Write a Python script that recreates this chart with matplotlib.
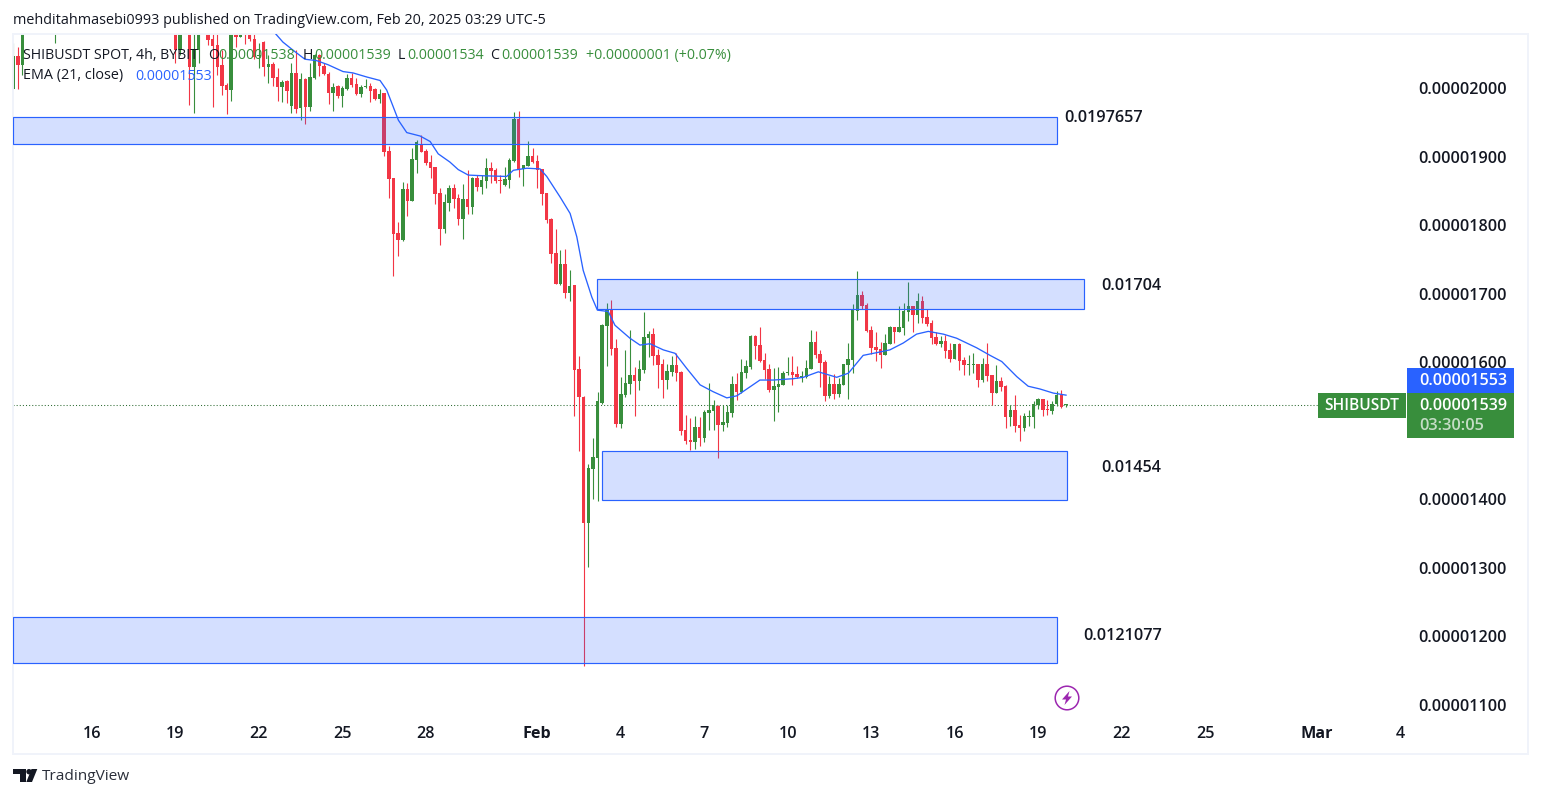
#!/usr/bin/env python3
import numpy as np
import matplotlib
matplotlib.use("Agg")
import matplotlib.pyplot as plt
from matplotlib.patches import Rectangle, Circle, Polygon

plt.rcParams['font.family'] = ['Open Sans', 'DejaVu Sans']

# 4h candles in units of 0.00000001, oldest first
# (the ones above the top of the chart are rough guesses, they get clipped)
opens = [
    1998, 2046, 2033, 2090, 2105, 2112, 2098, 2120, 2108, 2095,
    2110, 2125, 2118, 2132, 2140, 2128, 2135, 2146, 2130, 2122, 2138, 2150, 2142, 2128, 2120,
    2134, 2126, 2115, 2130, 2122, 2110, 2118, 2105, 2112, 2098,
    2082, 2055, 2085, 2095, 2031, 2055, 2085, 2090, 2072, 2063,
    2033, 2005, 1997, 2085, 2075, 2090, 2077, 2071, 2046, 2067,
    2031, 2035, 2016, 2001, 2010, 1974, 2022, 1971, 2013, 1973,
    2014, 2048, 2032, 2021, 1993, 2003, 1988, 1999, 2015, 2006,
    1991, 2001, 2003, 1999, 1984, 1993, 1908, 1869, 1789, 1778,
    1853, 1835, 1895, 1918, 1908, 1892, 1885, 1847, 1794, 1832,
    1854, 1840, 1809, 1838, 1826, 1869, 1856, 1864, 1883, 1880,
    1866, 1858, 1866, 1894, 1955, 1882, 1886, 1901, 1893, 1882,
    1847, 1809, 1759, 1714, 1743, 1701, 1712, 1590, 1550, 1366,
    1444, 1461, 1541, 1653, 1678, 1621, 1510, 1552, 1568, 1581,
    1573, 1589, 1635, 1641, 1610, 1597, 1574, 1586, 1596, 1586,
    1501, 1487, 1484, 1505, 1489, 1526, 1529, 1536, 1508, 1511,
    1526, 1568, 1557, 1584, 1593, 1638, 1625, 1603, 1590, 1559,
    1564, 1567, 1584, 1586, 1583, 1578, 1578, 1590, 1630, 1612,
    1600, 1551, 1568, 1554, 1567, 1596, 1603, 1675, 1698, 1684,
    1647, 1622, 1619, 1611, 1627, 1651, 1644, 1650, 1673, 1682,
    1669, 1689, 1666, 1657, 1637, 1627, 1631, 1618, 1605, 1627,
    1603, 1596, 1596, 1597, 1574, 1597, 1581, 1555, 1573, 1565,
    1520, 1530, 1508, 1504, 1520, 1520, 1538, 1546, 1532, 1529,
    1539, 1552, 1538,
]
highs = [
    2065, 2060, 2095, 2105, 2120, 2125, 2118, 2130, 2125, 2120,
    2128, 2135, 2132, 2142, 2150, 2145, 2148, 2155, 2146, 2136, 2145, 2158, 2155, 2146, 2130,
    2140, 2138, 2128, 2136, 2132, 2122, 2126, 2120, 2118, 2110,
    2095, 2095, 2105, 2110, 2085, 2095, 2100, 2100, 2095, 2085,
    2055, 2007, 2090, 2095, 2085, 2100, 2090, 2085, 2065, 2068,
    2048, 2038, 2029, 2012, 2012, 2036, 2055, 2022, 2014, 2036,
    2049, 2050, 2037, 2024, 2007, 2005, 2003, 2020, 2022, 2015,
    2005, 2013, 2007, 2000, 1999, 1993, 1915, 1869, 1805, 1863,
    1861, 1913, 1924, 1931, 1911, 1902, 1885, 1854, 1845, 1859,
    1860, 1845, 1860, 1880, 1870, 1873, 1873, 1898, 1892, 1883,
    1873, 1885, 1898, 1965, 1966, 1888, 1923, 1912, 1902, 1882,
    1847, 1810, 1794, 1764, 1765, 1735, 1713, 1609, 1551, 1452,
    1489, 1557, 1656, 1686, 1691, 1634, 1578, 1618, 1647, 1593,
    1603, 1673, 1646, 1650, 1619, 1605, 1597, 1609, 1613, 1587,
    1523, 1519, 1522, 1520, 1530, 1570, 1545, 1538, 1538, 1538,
    1580, 1584, 1605, 1603, 1640, 1640, 1651, 1613, 1597, 1592,
    1593, 1587, 1608, 1609, 1594, 1587, 1603, 1647, 1646, 1618,
    1603, 1580, 1583, 1577, 1598, 1628, 1685, 1733, 1704, 1686,
    1653, 1644, 1630, 1641, 1653, 1652, 1682, 1686, 1717, 1682,
    1701, 1697, 1677, 1662, 1644, 1638, 1640, 1628, 1627, 1628,
    1608, 1610, 1613, 1598, 1606, 1628, 1581, 1596, 1578, 1567,
    1538, 1552, 1523, 1526, 1530, 1543, 1548, 1546, 1545, 1543,
    1558, 1559, 1539,
]
lows = [
    1998, 1999, 2019, 2088, 2098, 2100, 2092, 2105, 2098, 2065,
    2100, 2108, 2105, 2118, 2124, 2120, 2122, 2125, 2118, 2108, 2120, 2128, 2122, 2112, 2106,
    2112, 2108, 2098, 2108, 2098, 2096, 2092, 2090, 2085, 2088,
    2036, 2048, 2082, 1975, 1964, 2037, 2081, 2063, 1973, 2019,
    1990, 1962, 1981, 2060, 2074, 2064, 2068, 2043, 2029, 2017,
    2008, 2003, 1981, 1980, 1978, 1963, 1964, 1953, 1947, 1967,
    2013, 2018, 2019, 1977, 1967, 1985, 1973, 1997, 2001, 1990,
    1987, 2000, 1980, 1983, 1978, 1901, 1840, 1726, 1755, 1777,
    1813, 1835, 1876, 1906, 1888, 1869, 1831, 1771, 1789, 1821,
    1825, 1800, 1780, 1816, 1816, 1850, 1845, 1854, 1861, 1861,
    1847, 1857, 1854, 1892, 1870, 1857, 1886, 1891, 1854, 1829,
    1803, 1745, 1714, 1713, 1694, 1689, 1522, 1470, 1157, 1302,
    1400, 1398, 1539, 1594, 1611, 1505, 1504, 1549, 1554, 1522,
    1559, 1584, 1608, 1596, 1562, 1548, 1561, 1580, 1573, 1494,
    1481, 1472, 1473, 1478, 1484, 1501, 1501, 1460, 1500, 1505,
    1520, 1545, 1555, 1577, 1590, 1605, 1601, 1575, 1556, 1514,
    1527, 1567, 1581, 1567, 1577, 1571, 1577, 1590, 1606, 1564,
    1544, 1548, 1547, 1550, 1567, 1547, 1585, 1661, 1677, 1644,
    1612, 1602, 1591, 1610, 1626, 1628, 1644, 1640, 1660, 1644,
    1657, 1657, 1653, 1627, 1625, 1622, 1606, 1600, 1605, 1589,
    1581, 1581, 1584, 1564, 1571, 1573, 1537, 1555, 1558, 1504,
    1507, 1498, 1485, 1500, 1507, 1504, 1532, 1521, 1523, 1524,
    1536, 1533, 1534,
]
closes = [
    2046, 2033, 2090, 2105, 2112, 2098, 2120, 2108, 2095, 2110,
    2125, 2118, 2132, 2140, 2128, 2135, 2146, 2130, 2122, 2138, 2150, 2142, 2128, 2120, 2134,
    2126, 2115, 2130, 2122, 2110, 2118, 2105, 2112, 2098, 2100,
    2055, 2085, 2095, 2031, 2055, 2085, 2092, 2070, 2062, 2031,
    2003, 1997, 2085, 2075, 2078, 2079, 2071, 2045, 2048, 2031,
    2035, 2015, 2001, 2009, 1995, 2022, 1970, 2013, 1973, 2016,
    2048, 2032, 2020, 1993, 2001, 1988, 2000, 2015, 2004, 1991,
    2001, 2003, 1996, 1984, 1992, 1907, 1867, 1787, 1778, 1853,
    1835, 1896, 1921, 1907, 1891, 1883, 1845, 1794, 1834, 1854,
    1838, 1809, 1838, 1826, 1869, 1856, 1866, 1883, 1879, 1864,
    1864, 1867, 1895, 1955, 1880, 1888, 1901, 1892, 1880, 1845,
    1807, 1758, 1714, 1743, 1701, 1711, 1589, 1550, 1366, 1446,
    1462, 1543, 1654, 1678, 1619, 1510, 1554, 1570, 1581, 1573,
    1590, 1637, 1641, 1609, 1596, 1574, 1587, 1596, 1584, 1500,
    1485, 1484, 1505, 1489, 1527, 1530, 1538, 1508, 1513, 1527,
    1568, 1557, 1586, 1594, 1638, 1624, 1602, 1589, 1559, 1565,
    1568, 1584, 1586, 1581, 1578, 1580, 1591, 1630, 1610, 1599,
    1551, 1568, 1554, 1568, 1597, 1605, 1677, 1698, 1682, 1645,
    1621, 1618, 1611, 1628, 1651, 1644, 1651, 1675, 1682, 1669,
    1689, 1665, 1656, 1635, 1627, 1631, 1616, 1605, 1627, 1602,
    1596, 1597, 1597, 1574, 1597, 1580, 1555, 1573, 1564, 1520,
    1530, 1507, 1504, 1522, 1522, 1539, 1546, 1530, 1530, 1539,
    1552, 1535, 1539,
]

# EMA(21): day number (Jan 1 = 1, Feb 1 = 32) and value
ema_days = [
    22.60, 22.86, 23.23, 23.65, 24.07, 24.48, 25.02, 25.38, 25.88, 26.35,
    26.59, 26.82, 27.01, 27.31, 27.79, 28.15, 28.44, 28.86, 29.16, 29.52,
    30.06, 30.90, 31.14, 31.62, 32.10, 32.34, 32.82, 33.18, 33.42, 33.65,
    33.96, 34.16, 34.55, 34.79, 35.33, 35.69, 36.05, 36.53, 36.95, 37.37,
    37.85, 38.32, 38.81, 39.17, 39.64, 40.00, 40.48, 41.20, 41.56, 42.10,
    42.76, 43.18, 43.71, 44.20, 44.67, 45.15, 45.63, 46.05, 46.59, 47.07,
    47.79, 48.27, 48.69, 49.23, 49.64, 50.06, 50.54, 51.00,
]
ema_values = [
    2079, 2067, 2055, 2042, 2040, 2034, 2024, 2022, 2016, 2011,
    1997, 1973, 1953, 1935, 1930, 1922, 1904, 1892, 1881, 1873,
    1872, 1871, 1880, 1883, 1882, 1871, 1841, 1817, 1783, 1734,
    1695, 1676, 1674, 1654, 1635, 1625, 1627, 1618, 1613, 1591,
    1567, 1557, 1548, 1551, 1564, 1574, 1574, 1576, 1578, 1586,
    1578, 1584, 1610, 1614, 1618, 1628, 1641, 1645, 1641, 1635,
    1621, 1610, 1601, 1579, 1565, 1561, 1555, 1552,
]

# zones: day start, day end, price bottom, price top, text on the right
zone_starts = [13.16, 34.15, 34.34, 13.16]
zone_ends = [50.67, 51.64, 51.02, 50.67]
zone_bottoms = [1918, 1678, 1399, 1161]
zone_tops = [1958, 1722, 1470, 1228]
zone_labels = ["0.0197657", "0.01704", "0.01454", "0.0121077"]

y_ticks = [1100, 1200, 1300, 1400, 1600, 1700, 1800, 1900, 2000]
x_ticks = [16, 19, 22, 25, 28, 32, 35, 38, 41, 44, 47, 50, 53, 56, 60, 63]
x_labels = ['16', '19', '22', '25', '28', 'Feb', '4', '7', '10', '13', '16', '19', '22', '25', 'Mar', '4']

GREEN = '#388E3C'
RED = '#F23645'
BLUE = '#2962FF'
DARK = '#131722'
W, H = 1541, 798


def fx(x):
    return x / W


def fy(y):
    return 1 - y / H


def main() -> None:
    fig = plt.figure(figsize=(W / 100, H / 100), dpi=100, facecolor='white')
    ax = fig.add_axes([fx(13), fy(754), (1528 - 13) / W, (754 - 34) / H])
    ax.set_xlim(13.161, 67.6)
    ax.set_ylim(1028.5, 2078.8)

    o = np.array(opens)
    h = np.array(highs)
    l = np.array(lows)
    c = np.array(closes)
    n = len(o)
    days = 51 - (n - 1 - np.arange(n)) / 6
    colors = [GREEN if cl >= op else RED for op, cl in zip(o, c)]

    ax.vlines(days, l, h, colors=colors, linewidth=0.8, zorder=2, snap=True)
    ax.bar(days, np.abs(c - o), bottom=np.minimum(o, c), width=0.125,
           color=colors, linewidth=0, zorder=2)
    ax.plot(ema_days, ema_values, color=BLUE, linewidth=0.95, zorder=3, solid_joinstyle='round')

    # last price line
    ax.hlines(c[-1] - 1, 13.161, 16 + (1318 - 92) / 27.83, colors='#2F6B33',
              linewidth=0.75, linestyles=(0, (1, 2)), zorder=1)

    for x0, x1, y0, y1 in zip(zone_starts, zone_ends, zone_bottoms, zone_tops):
        ax.add_patch(Rectangle((x0, y0), x1 - x0, y1 - y0, facecolor=(41 / 255, 98 / 255, 1, 0.2),
                               edgecolor=BLUE, linewidth=0.85, zorder=4))

    ax.set_yticks(y_ticks)
    ax.set_yticklabels([f"{v * 1e-8:.8f}" for v in y_ticks])
    ax.yaxis.tick_right()
    ax.tick_params(axis='y', length=0, pad=-79.2, labelsize=11.6, labelcolor=DARK)
    ax.set_xticks(x_ticks)
    ax.set_xticklabels(x_labels)
    ax.tick_params(axis='x', length=0, pad=-20.2, labelsize=11.6, labelcolor=DARK)
    for lab in ax.get_yticklabels():
        lab.set_horizontalalignment('left')
        lab.set_fontweight('semibold')
    for lab in ax.get_xticklabels():
        lab.set_fontweight('semibold' if lab.get_text() not in ('Feb', 'Mar') else 'bold')
    for side in ax.spines.values():
        side.set_color('#F0F3FA')
        side.set_linewidth(1.4)

    # zone captions
    for text, x, y in zip(zone_labels, [1064, 1101, 1101, 1083], [118.5, 286.5, 468.5, 635.5]):
        fig.text(fx(x), fy(y), text, fontsize=11.6, color=DARK, va='center', fontweight='semibold')

    # header and legend
    fig.text(fx(13), fy(21), "mehditahmasebi0993 published on TradingView.com, Feb 20, 2025 03:29 UTC-5",
             fontsize=10.35, color=DARK, va='center')
    fig.text(fx(23), fy(55.5), "SHIBUSDT SPOT, 4h, BYBIT", fontsize=10.2, color=DARK, va='center')
    fig.text(fx(23), fy(76), "EMA (21, close)", fontsize=10.4, color=DARK, va='center')
    fig.text(fx(135), fy(76), "0.00001553", fontsize=10.2, color=BLUE, va='center')
    for s, x, col in [("O", 208, DARK), ("0.00001538", 218, GREEN), ("H", 303, DARK), ("0.00001539", 314, GREEN),
                      ("L", 398, DARK), ("0.00001534", 407, GREEN), ("C", 490, DARK), ("0.00001539", 501, GREEN),
                      ("+0.00000001 (+0.07%)", 586, GREEN)]:
        fig.text(fx(x), fy(55.5), s, fontsize=10.2, color=col, va='center')

    # price tags on the right
    def tag(x0, y0, x1, y1, col):
        fig.add_artist(Rectangle((fx(x0), fy(y1)), fx(x1 - x0), (y1 - y0) / H, transform=fig.transFigure,
                                 facecolor=col, edgecolor='none'))

    tag(1407, 368, 1514, 393, BLUE)
    tag(1407, 393, 1514, 438, GREEN)
    tag(1318, 393, 1406, 418, GREEN)
    fig.text(fx(1419), fy(381), "0.00001553", fontsize=11.6, color='white', va='center', fontweight='semibold')
    fig.text(fx(1419), fy(406), "0.00001539", fontsize=11.6, color='white', va='center', fontweight='semibold')
    fig.text(fx(1419), fy(426), "03:30:05", fontsize=11.8, color='#C4DCC5', va='center', fontweight='semibold')
    fig.text(fx(1362), fy(406), "SHIBUSDT", fontsize=11.2, color='white', va='center', ha='center', fontweight='semibold')

    # flash icon under the last candle
    icon = fig.add_axes([fx(1054), fy(711), 26 / W, 26 / H])
    icon.set_xlim(0, 26)
    icon.set_ylim(26, 0)
    icon.axis('off')
    icon.add_patch(Circle((13, 13), 11.8, facecolor='white', edgecolor='#9C27B0', linewidth=1.1))
    icon.add_patch(Polygon([(15.5, 6), (8, 14.5), (12, 14.5), (10.5, 20), (18, 11.5), (14, 11.5)], closed=True,
                           facecolor='#9C27B0', edgecolor='none'))

    # TradingView logo and name
    logo = fig.add_axes([0, fy(798), 60 / W, 40 / H])
    logo.set_xlim(0, 60)
    logo.set_ylim(798, 758)
    logo.axis('off')
    logo.add_patch(Polygon([(13, 769), (25.5, 769), (25.5, 782), (19.5, 782), (19.5, 774.5), (13, 774.5)],
                           closed=True, facecolor=DARK))
    logo.add_patch(Circle((29, 771.7), 2.7, facecolor=DARK))
    logo.add_patch(Polygon([(31.5, 769), (37.3, 769), (32, 782), (26.3, 782)], closed=True, facecolor=DARK))
    fig.text(fx(42), fy(777), "TradingView", fontsize=11.1, color='#2A2E39', va='center')

    fig.savefig('out.png', dpi=100)


if __name__ == '__main__':
    main()
